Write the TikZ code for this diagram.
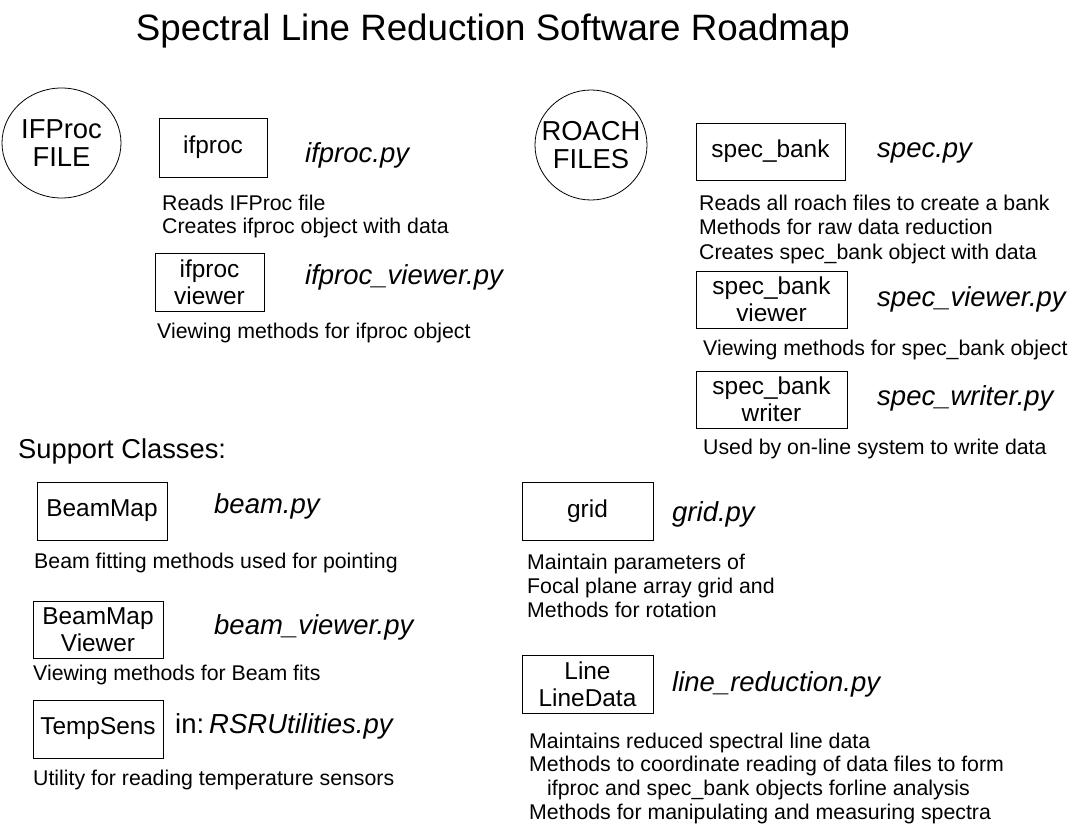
\documentclass[tikz,border=0pt]{standalone}
\usepackage{fontspec}
\setmainfont{Liberation Sans}
\usetikzlibrary{shapes.geometric}
\begin{document}
\begin{tikzpicture}[x=1pt,y=-1pt,
  box/.style={draw=black,line width=0.9pt,inner sep=0pt,align=center,font=\fontsize{24.4}{27}\selectfont},
  blob/.style={draw=black,line width=0.8pt,ellipse,inner sep=0pt,outer sep=0pt},
  blobtext/.style={inner sep=0pt,align=center,font=\fontsize{27.4}{28}\selectfont},
  fname/.style={anchor=base west,inner sep=0pt,font=\fontsize{27.5}{30}\selectfont\itshape},
  desc/.style={anchor=base west,inner sep=0pt,font=\fontsize{21.3}{24}\selectfont},
  head/.style={anchor=base west,inner sep=0pt,font=\fontsize{27.3}{30}\selectfont}]
\useasboundingbox (0,0) rectangle (1079,829);
\node[anchor=base,inner sep=0pt,font=\fontsize{36.7}{40}\selectfont] (title) at (493,41) {Spectral Line Reduction Software Roadmap};
% IFProc
\node[blob,minimum width=119pt,minimum height=110pt] (iffile) at (61.5,143) {};
\node[blobtext] (iffiletext) at (iffile.center) {IFProc\\FILE};
\node[box,minimum width=108pt,minimum height=59pt] (ifproc) at (213,147.5) {ifproc};
\node[fname] (ifprocpy) at (305,163) {ifproc.py};
\node[desc] (ifd1) at (162,211) {Reads IFProc file};
\node[desc] (ifd2) at (162,234) {Creates ifproc object with data};
\node[box,minimum width=109pt,minimum height=58pt] (ifview) at (209.5,282) {ifproc\\viewer};
\node[fname] (ifviewpy) at (305,284) {ifproc\_viewer.py};
\node[desc] (ifvd) at (157,338) {Viewing methods for ifproc object};
% ROACH
\node[blob,minimum width=112pt,minimum height=110pt] (roach) at (591,145) {};
\node[blobtext] (roachtext) at (roach.center) {ROACH\\FILES};
\node[box,minimum width=149pt,minimum height=57pt] (specbank) at (770.5,151.5) {spec\_bank};
\node[fname] (specpy) at (877,158) {spec.py};
\node[desc] (sd1) at (699,211) {Reads all roach files to create a bank};
\node[desc] (sd2) at (699,235) {Methods for raw data reduction};
\node[desc] (sd3) at (699,259) {Creates spec\_bank object with data};
\node[box,minimum width=151pt,minimum height=57pt] (specview) at (771.5,299.5) {spec\_bank\\viewer};
\node[fname] (specviewpy) at (877,306) {spec\_viewer.py};
\node[desc] (svd) at (703,355) {Viewing methods for spec\_bank object};
\node[box,minimum width=151pt,minimum height=57pt] (specwrite) at (771.5,399.5) {spec\_bank\\writer};
\node[fname] (specwritepy) at (877,405) {spec\_writer.py};
\node[desc] (swd) at (703,454) {Used by on-line system to write data};
% Support
\node[head] (support) at (18,458) {Support Classes:};
\node[box,minimum width=130pt,minimum height=58pt] (beammap) at (102,511) {BeamMap};
\node[fname] (beampy) at (214,513) {beam.py};
\node[desc] (bd) at (34,568) {Beam fitting methods used for pointing};
\node[box,minimum width=130pt,minimum height=57pt] (beamview) at (98,629.5) {BeamMap\\Viewer};
\node[fname] (beamviewpy) at (214,634) {beam\_viewer.py};
\node[desc] (bvd) at (33,680) {Viewing methods for Beam fits};
\node[box,minimum width=130pt,minimum height=58pt] (temps) at (98,729) {TempSens};
\node[fname] (tempspy) at (175,733) {\upshape in:\hspace{5pt}\itshape RSRUtilities.py};
\node[desc] (td) at (33,785) {Utility for reading temperature sensors};
\node[box,minimum width=131pt,minimum height=58pt] (grid) at (587.5,511) {grid};
\node[fname] (gridpy) at (672,521) {grid.py};
\node[desc] (gd1) at (527,569) {Maintain parameters of};
\node[desc] (gd2) at (527,593) {Focal plane array grid and};
\node[desc] (gd3) at (527,617) {Methods for rotation};
\node[box,minimum width=131pt,minimum height=58pt] (line) at (587.5,684) {Line\\LineData};
\node[fname] (linepy) at (672,691) {line\_reduction.py};
\node[desc] (ld1) at (529,748) {Maintains reduced spectral line data};
\node[desc] (ld2) at (529,771) {Methods to coordinate reading of data files to form};
\node[desc] (ld3) at (547,795) {ifproc and spec\_bank objects forline analysis};
\node[desc] (ld4) at (529,819) {Methods for manipulating and measuring spectra};
\end{tikzpicture}
\end{document}
